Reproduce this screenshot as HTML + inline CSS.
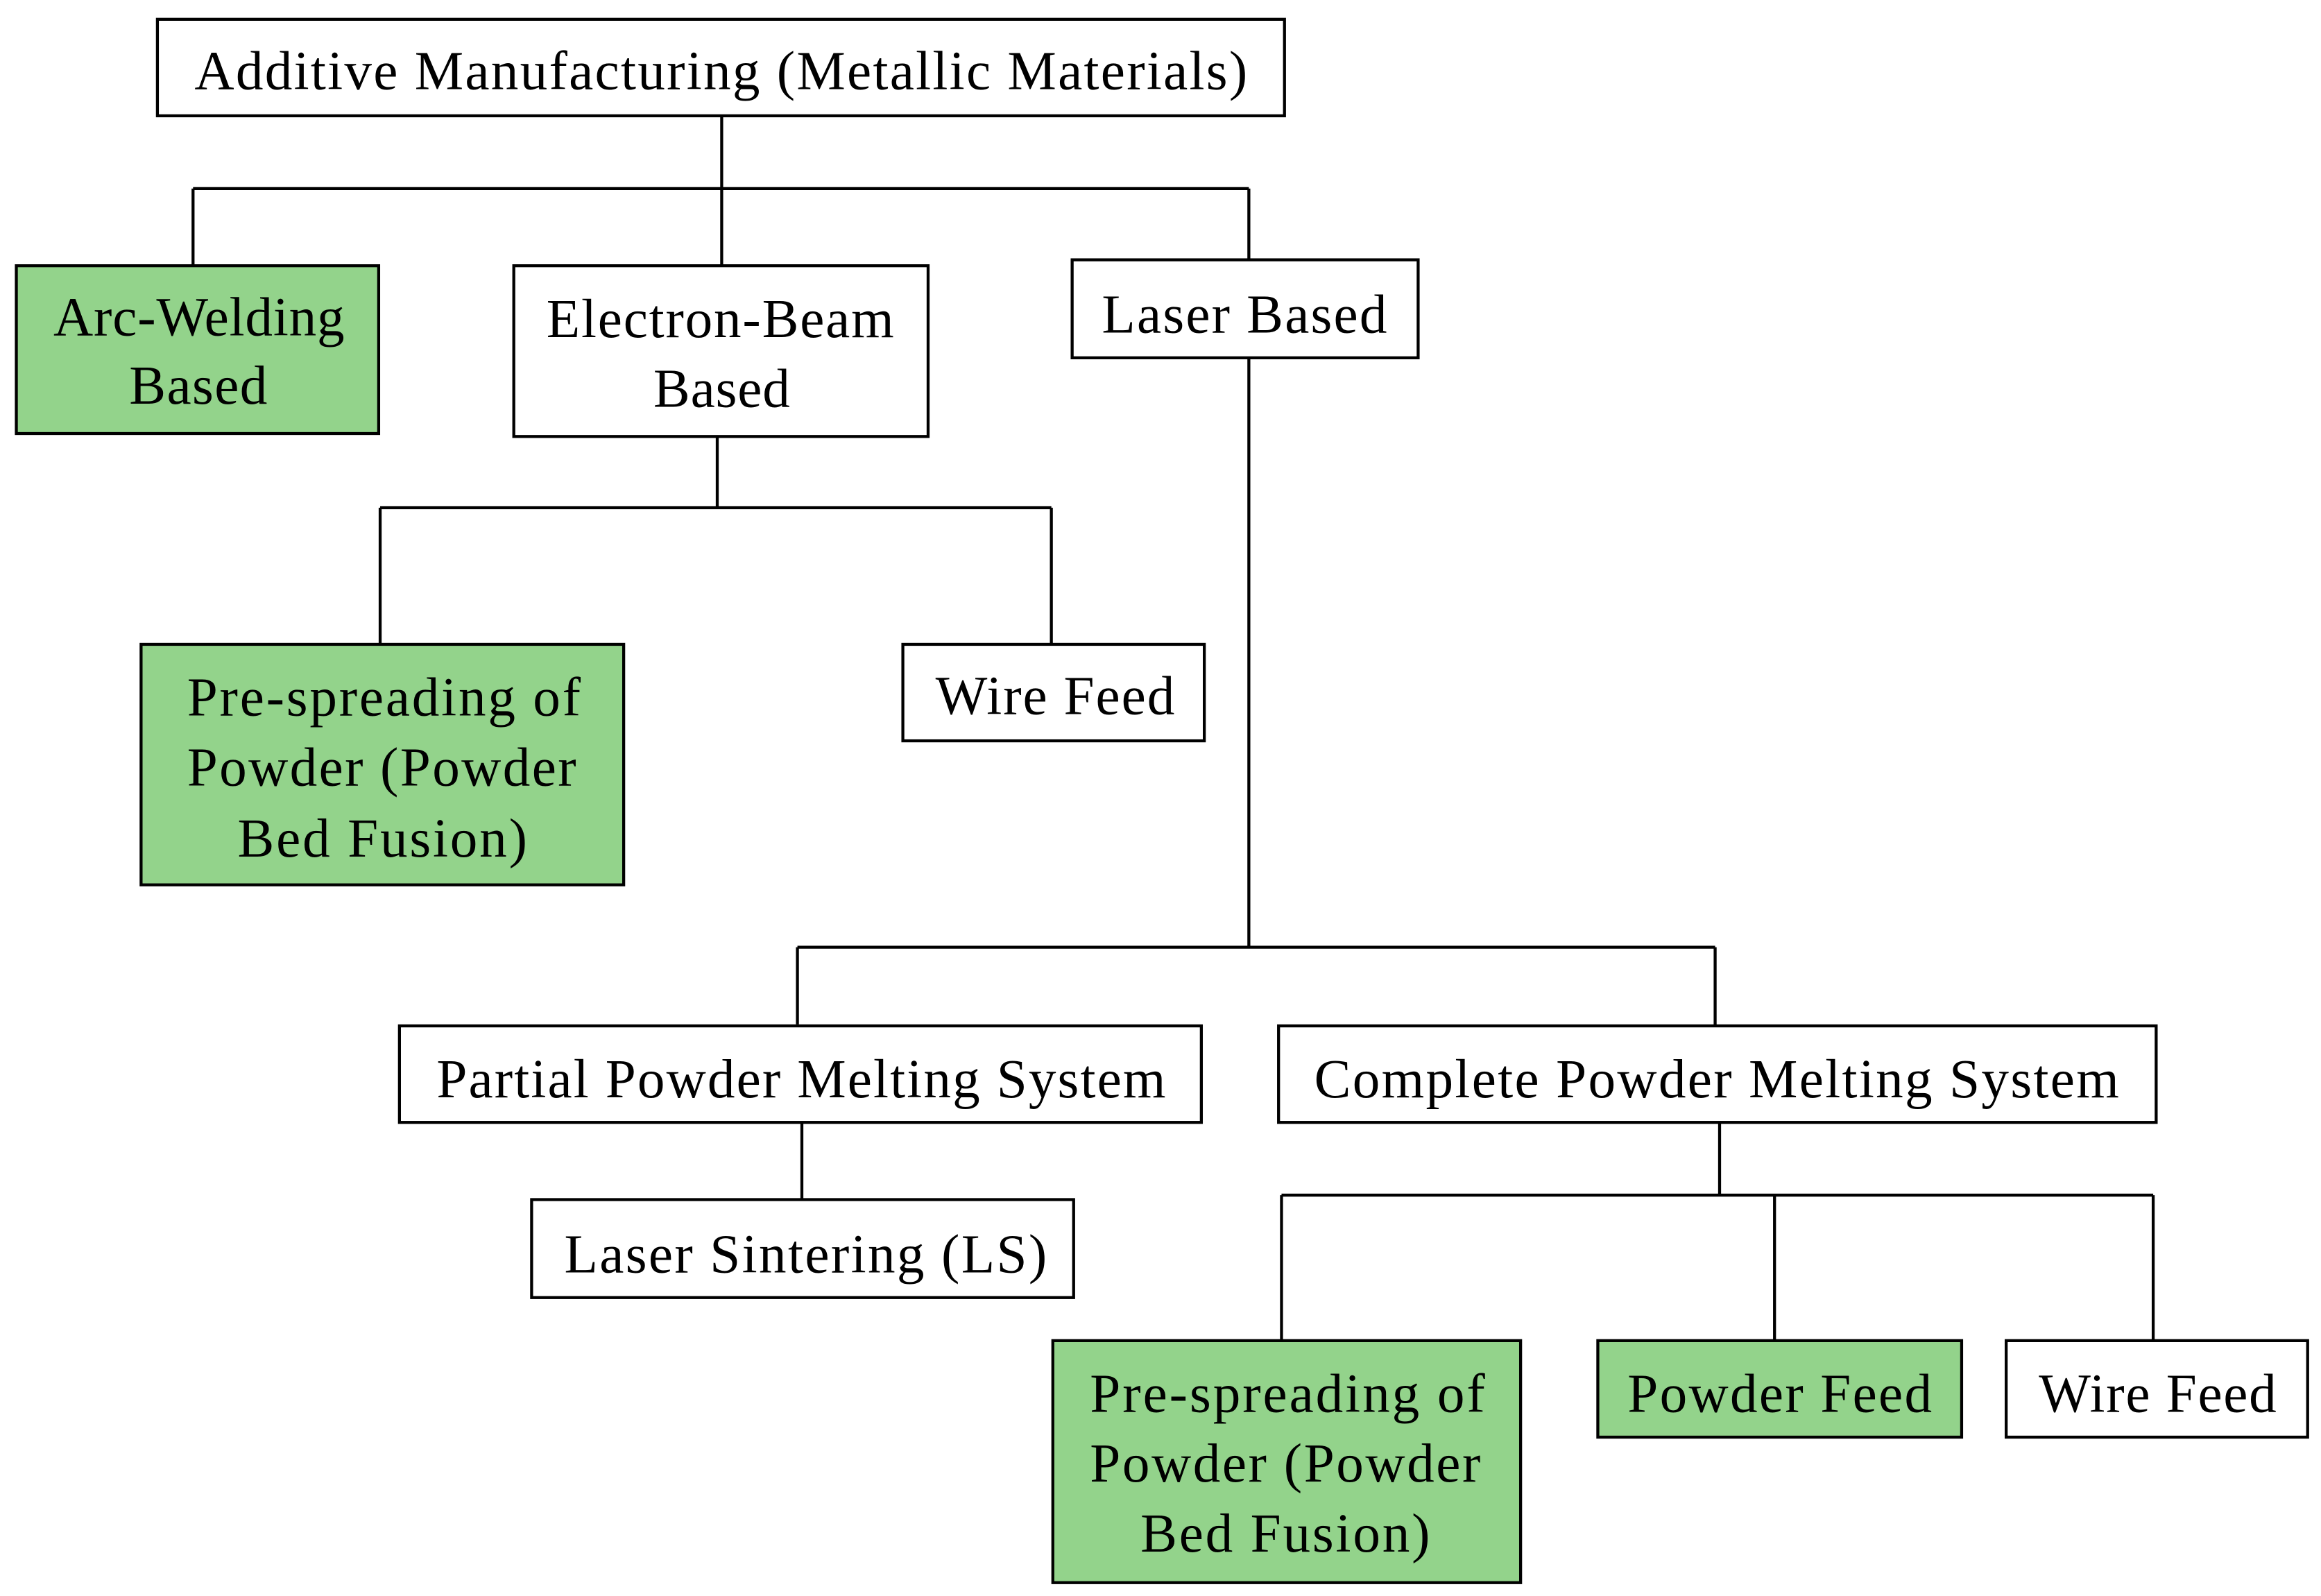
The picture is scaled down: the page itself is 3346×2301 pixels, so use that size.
<!DOCTYPE html>
<html><head><meta charset="utf-8"><style>
html,body{margin:0;padding:0;background:#fff;}
svg{display:block;}
text{font-family:"Liberation Serif",serif;font-size:37px;fill:#000;}
</style></head><body>
<svg width="3346" height="2301" viewBox="0 0 1563 1075" preserveAspectRatio="none" xmlns="http://www.w3.org/2000/svg">
<g fill="none" stroke="#000" stroke-width="2">
<path d="M486 78V127M130 127H841M130 127V178M486 127V179M841 127V175"/>
<path d="M841 241V638M537 638H1155M537 638V690M1155 638V691"/>
<path d="M483 294V342M256 342H708M256 342V434M708 342V434"/>
<path d="M540 756V808M1158 756V805M863 805H1450M863 805V903M1195 805V903M1450 805V903"/>
</g>
<g stroke="#000" stroke-width="2">
<rect x="106" y="13" width="759" height="65" fill="#fff"/>
<rect x="11" y="179" width="244" height="113" fill="#93d38b"/>
<rect x="346" y="179" width="279" height="115" fill="#fff"/>
<rect x="722" y="175" width="233" height="66" fill="#fff"/>
<rect x="95" y="434" width="325" height="162" fill="#93d38b"/>
<rect x="608" y="434" width="203" height="65" fill="#fff"/>
<rect x="269" y="691" width="540" height="65" fill="#fff"/>
<rect x="861" y="691" width="591" height="65" fill="#fff"/>
<rect x="358" y="808" width="365" height="66" fill="#fff"/>
<rect x="709" y="903" width="315" height="163" fill="#93d38b"/>
<rect x="1076" y="903" width="245" height="65" fill="#93d38b"/>
<rect x="1351" y="903" width="203" height="65" fill="#fff"/>
</g>
<g>
<text x="131" y="60" textLength="709" lengthAdjust="spacing">Additive Manufacturing (Metallic Materials)</text>
<text x="36" y="226" textLength="196" lengthAdjust="spacing">Arc-Welding</text>
<text x="87" y="272" textLength="93" lengthAdjust="spacing">Based</text>
<text x="368" y="227" textLength="234" lengthAdjust="spacing">Electron-Beam</text>
<text x="440" y="274" textLength="92" lengthAdjust="spacing">Based</text>
<text x="742" y="224" textLength="192" lengthAdjust="spacing">Laser Based</text>
<text x="126" y="482" textLength="265" lengthAdjust="spacing">Pre-spreading of</text>
<text x="126" y="529" textLength="262" lengthAdjust="spacing">Powder (Powder</text>
<text x="160" y="577" textLength="195" lengthAdjust="spacing">Bed Fusion)</text>
<text x="630" y="481" textLength="161" lengthAdjust="spacing">Wire Feed</text>
<text x="294" y="739" textLength="491" lengthAdjust="spacing">Partial Powder Melting System</text>
<text x="885" y="739" textLength="542" lengthAdjust="spacing">Complete Powder Melting System</text>
<text x="380" y="857" textLength="325" lengthAdjust="spacing">Laser Sintering (LS)</text>
<text x="734" y="951" textLength="266" lengthAdjust="spacing">Pre-spreading of</text>
<text x="734" y="998" textLength="263" lengthAdjust="spacing">Powder (Powder</text>
<text x="768" y="1045" textLength="195" lengthAdjust="spacing">Bed Fusion)</text>
<text x="1096" y="951" textLength="205" lengthAdjust="spacing">Powder Feed</text>
<text x="1373" y="951" textLength="160" lengthAdjust="spacing">Wire Feed</text>
</g>
</svg>
</body></html>
